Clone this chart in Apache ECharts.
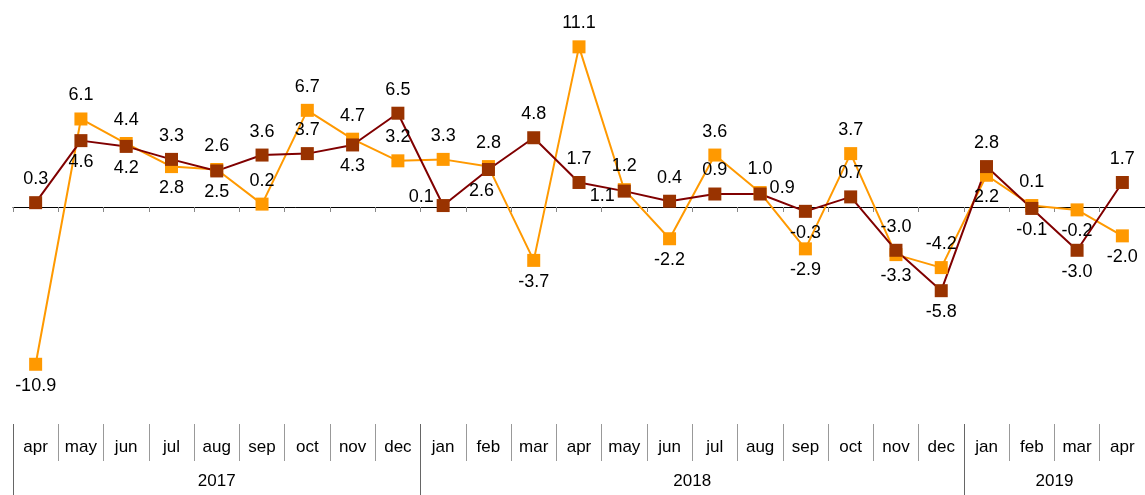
<!DOCTYPE html>
<html>
<head>
<meta charset="utf-8">
<script src="https://cdn.jsdelivr.net/npm/echarts@6/dist/echarts.min.js"></script>
<style>
  html, body { margin: 0; padding: 0; background: #fff; }
  #main { width: 1145px; height: 495px; }
</style>
</head>
<body>
<div id="main"></div>
<script>
var months = ['apr','may','jun','jul','aug','sep','oct','nov','dec',
  'jan','feb','mar','apr','may','jun','jul','aug','sep','oct','nov','dec',
  'jan','feb','mar','apr'];
var years = ['2017', '2018', '2019'];
var yearMonths = [9, 12, 4];

var orangeValues = [-10.9, 6.1, 4.4, 2.8, 2.6, 0.2, 6.7, 4.7, 3.2,
  3.3, 2.8, -3.7, 11.1, 1.2, -2.2, 3.6, 1.0, -2.9, 3.7, -3.3, -4.2,
  2.2, 0.1, -0.2, -2.0];
var darkValues = [0.3, 4.6, 4.2, 3.3, 2.5, 3.6, 3.7, 4.3, 6.5,
  0.1, 2.6, 4.8, 1.7, 1.1, 0.4, 0.9, 0.9, -0.3, 0.7, -3.0, -5.8,
  2.8, -0.1, -3.0, 1.7];

// where each value label sits (t = top, b = bottom, l = left, r = right)
var orangeSide = 'bttbtttttttbttbttbtbtbtbb'.split('');
var darkSide = 'tbbtbttbtlbttlttrbttbtbbt'.split('');
var darkShift = { 9: [0, -9], 10: [-7, 0], 13: [0, 5], 16: [0, -6] };
var sideName = { t: 'top', b: 'bottom', l: 'left', r: 'right' };

// year boundaries and centres on a 0..n scale
var yearBounds = [0];
var yearCentres = [];
for (var i = 0; i < yearMonths.length; i++) {
  var start = yearBounds[yearBounds.length - 1];
  yearCentres.push(start + yearMonths[i] / 2);
  yearBounds.push(start + yearMonths[i]);
}

var font = 'Liberation Sans, Arial, sans-serif';

function buildData(values, sides, shifts) {
  var out = [];
  for (var i = 0; i < values.length; i++) {
    var side = sideName[sides[i]];
    var dist = 6;
    if (side === 'top') dist = 8;
    if (side === 'left' || side === 'right') dist = 3;
    var lbl = { position: side, distance: dist };
    if (shifts && shifts[i]) lbl.offset = shifts[i];
    out.push({ value: values[i], label: lbl });
  }
  return out;
}

var chart = echarts.init(document.getElementById('main'));
var option = {
  animation: false,
  grid: { left: 13, top: 5, width: 1133, height: 404 },
  xAxis: [
    {
      type: 'category',
      data: months,
      boundaryGap: true,
      axisLine: { onZero: true, lineStyle: { color: '#000', width: 1 } },
      axisTick: { show: true, length: 5, lineStyle: { color: '#888' } },
      axisLabel: { show: false },
      splitLine: { show: false }
    },
    {
      type: 'category',
      data: months,
      position: 'bottom',
      offset: 15,
      boundaryGap: true,
      axisLine: { show: false },
      axisTick: { show: true, length: 37, lineStyle: { color: '#999' } },
      axisLabel: { margin: 15, fontSize: 17, color: '#000', fontFamily: font, interval: 0 },
      splitLine: { show: false }
    },
    {
      type: 'value',
      min: 0,
      max: months.length,
      position: 'bottom',
      offset: 15,
      axisLine: { show: false },
      axisTick: { show: true, length: 71, customValues: yearBounds, lineStyle: { color: '#666' } },
      axisLabel: {
        margin: 49, fontSize: 17, color: '#000', fontFamily: font,
        customValues: yearCentres,
        formatter: function (v) {
          var k = yearCentres.indexOf(v);
          return k >= 0 ? years[k] : '';
        }
      },
      splitLine: { show: false }
    }
  ],
  yAxis: {
    type: 'value',
    min: -14,
    max: 14,
    show: false,
    splitLine: { show: false }
  },
  series: [
    {
      name: 'orange',
      type: 'line',
      xAxisIndex: 0,
      data: buildData(orangeValues, orangeSide),
      symbol: 'rect',
      symbolSize: 13,
      lineStyle: { color: '#FF9900', width: 2 },
      itemStyle: { color: '#FF9900' },
      label: {
        show: true, fontSize: 18, color: '#000', fontFamily: font,
        formatter: function (p) { return p.value.toFixed(1); }
      }
    },
    {
      name: 'dark',
      type: 'line',
      xAxisIndex: 0,
      data: buildData(darkValues, darkSide, darkShift),
      symbol: 'rect',
      symbolSize: 13,
      lineStyle: { color: '#800000', width: 2 },
      itemStyle: { color: '#993300' },
      label: {
        show: true, fontSize: 18, color: '#000', fontFamily: font,
        formatter: function (p) { return p.value.toFixed(1); }
      }
    }
  ]
};
option && chart.setOption(option);
</script>
</body>
</html>
